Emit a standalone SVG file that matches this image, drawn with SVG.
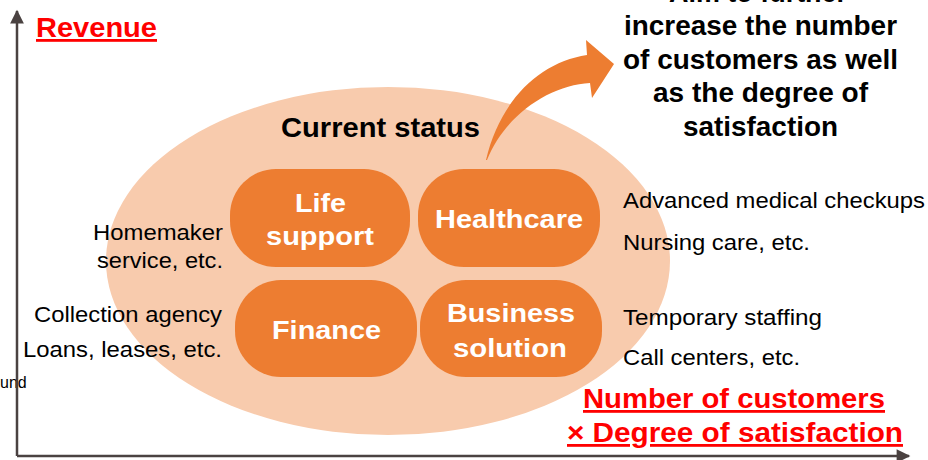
<svg xmlns="http://www.w3.org/2000/svg" width="928" height="460" viewBox="0 0 928 460">
<style>
.n{fill:#ED7D31}
.nt{font-family:"Liberation Sans",Arial,sans-serif;font-weight:bold;font-size:26.5px;fill:#FFFFFF}
.bt{font-family:"Liberation Sans",Arial,sans-serif;font-weight:bold;font-size:27px;fill:#000000}
.rt{font-family:"Liberation Sans",Arial,sans-serif;font-weight:bold;font-size:28px;fill:#FF0000;text-decoration:underline}
.t{font-family:"Liberation Sans",Arial,sans-serif;font-size:22px;fill:#000000}
.ax{stroke:#4A4241;stroke-width:2.5;fill:none}
</style>
<defs>
<marker id="ah" viewBox="0 0 10 10" refX="9" refY="5" markerWidth="6" markerHeight="5.5" markerUnits="strokeWidth" orient="auto">
<path d="M0,0 L10,5 L0,10 Z" fill="#4A4241"/>
</marker>
</defs>
<rect width="928" height="460" fill="#FFFFFF"/>
<ellipse id="current-status-area" cx="388" cy="261" rx="282" ry="174" fill="#F8CBAD"/>
<text x="0" y="388" font-family="Liberation Sans, Arial, sans-serif" font-size="16" fill="#000000">und</text>
<g id="connectors">
<path class="ax" d="M17,456 L17,11" marker-end="url(#ah)"/>
<path class="ax" d="M17,456 L909,456" marker-end="url(#ah)"/>
<path d="M486,160 C500,100 540,62 587,55 L586,40 L614,64 L592,98 L590,83 C550,85 505,115 487,160 Z" fill="#ED7D31"/>
</g>
<g id="axis-labels">
<text class="rt" x="36" y="37" textLength="121" lengthAdjust="spacingAndGlyphs">Revenue</text>
<text class="rt" x="583" y="408" textLength="302" lengthAdjust="spacingAndGlyphs">Number of customers</text>
<text class="rt" x="567" y="442" textLength="336" lengthAdjust="spacingAndGlyphs">× Degree of satisfaction</text>
</g>
<g id="aim">
<text class="bt" x="669" y="2" textLength="178" lengthAdjust="spacingAndGlyphs">Aim to further</text>
<text class="bt" x="624" y="35" textLength="273" lengthAdjust="spacingAndGlyphs">increase the number</text>
<text class="bt" x="623" y="69" textLength="275" lengthAdjust="spacingAndGlyphs">of customers as well</text>
<text class="bt" x="653" y="102" textLength="215" lengthAdjust="spacingAndGlyphs">as the degree of</text>
<text class="bt" x="683" y="136" textLength="155" lengthAdjust="spacingAndGlyphs">satisfaction</text>
</g>
<g id="current-status">
<text class="bt" x="281" y="137" textLength="199" lengthAdjust="spacingAndGlyphs">Current status</text>
</g>
<g id="life-support">
<rect class="n" x="230" y="169" width="180" height="98" rx="46"/>
<text class="nt" x="295" y="212" textLength="51" lengthAdjust="spacingAndGlyphs">Life</text>
<text class="nt" x="266" y="245" textLength="108" lengthAdjust="spacingAndGlyphs">support</text>
</g>
<g id="healthcare">
<rect class="n" x="418" y="169" width="182" height="98" rx="46"/>
<text class="nt" x="435" y="228" textLength="148" lengthAdjust="spacingAndGlyphs">Healthcare</text>
</g>
<g id="finance">
<rect class="n" x="235" y="280" width="182" height="97" rx="46"/>
<text class="nt" x="272" y="339" textLength="109" lengthAdjust="spacingAndGlyphs">Finance</text>
</g>
<g id="business-solution">
<rect class="n" x="420" y="280" width="182" height="97" rx="46"/>
<text class="nt" x="447" y="322" textLength="128" lengthAdjust="spacingAndGlyphs">Business</text>
<text class="nt" x="453" y="357" textLength="114" lengthAdjust="spacingAndGlyphs">solution</text>
</g>
<g id="left-examples">
<text class="t" x="93" y="240" textLength="130" lengthAdjust="spacingAndGlyphs">Homemaker</text>
<text class="t" x="97" y="268" textLength="126" lengthAdjust="spacingAndGlyphs">service, etc.</text>
<text class="t" x="34" y="322" textLength="188" lengthAdjust="spacingAndGlyphs">Collection agency</text>
<text class="t" x="23" y="357" textLength="199" lengthAdjust="spacingAndGlyphs">Loans, leases, etc.</text>
</g>
<g id="right-examples">
<text class="t" x="623" y="208" textLength="302" lengthAdjust="spacingAndGlyphs">Advanced medical checkups</text>
<text class="t" x="623" y="250" textLength="187" lengthAdjust="spacingAndGlyphs">Nursing care, etc.</text>
<text class="t" x="623" y="325" textLength="199" lengthAdjust="spacingAndGlyphs">Temporary staffing</text>
<text class="t" x="623" y="365" textLength="177" lengthAdjust="spacingAndGlyphs">Call centers, etc.</text>
</g>
</svg>
